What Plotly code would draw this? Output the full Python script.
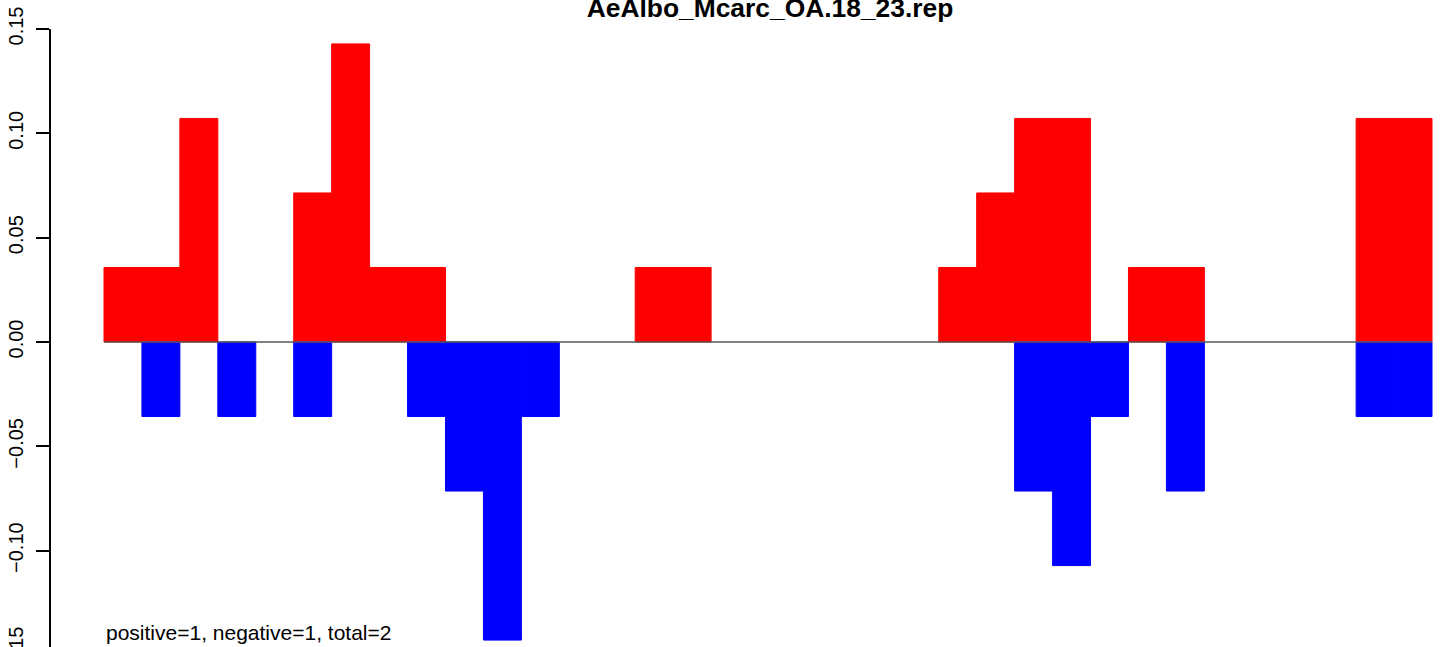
import plotly.graph_objects as go

title_text = "AeAlbo_Mcarc_OA.18_23.rep"
note_text = "positive=1, negative=1, total=2"

# counts per position, scaled by 1/28
pos_counts = [1, 1, 3, 0, 0, 2, 4, 1, 1, 0, 0, 0, 0, 0, 1, 1, 0, 0, 0, 0, 0, 0,
              1, 2, 3, 3, 0, 1, 1, 0, 0, 0, 0, 3, 3]
neg_counts = [0, 1, 0, 1, 0, 1, 0, 0, 1, 2, 4, 1, 0, 0, 0, 0, 0, 0, 0, 0, 0, 0,
              0, 0, 2, 3, 1, 0, 2, 0, 0, 0, 0, 1, 1]
denom = 28.0

pos_vals = [c / denom if c else None for c in pos_counts]
neg_vals = [-c / denom if c else None for c in neg_counts]
n = len(pos_counts)
xs = [i + 0.5 for i in range(n)]

y_ticks = [-0.15, -0.10, -0.05, 0.00, 0.05, 0.10, 0.15]
y_tick_text = ["\u22120.15", "\u22120.10", "\u22120.05", "0.00", "0.05", "0.10", "0.15"]

FONT = "Liberation Sans, Arial, Helvetica, sans-serif"

# figure is a bit taller than the window; the bottom is cropped like the original
W, H = 1441, 664

fig = go.Figure()
fig.add_trace(go.Scatter(x=[0, n], y=[0, 0], mode="lines",
                         line=dict(color="#595959", width=1.3),
                         hoverinfo="skip", showlegend=False))
fig.add_trace(go.Bar(x=xs, y=pos_vals, width=1.0,
                     marker=dict(color="#FF0000", line=dict(width=1.0, color="#FF0000")),
                     showlegend=False))
fig.add_trace(go.Bar(x=xs, y=neg_vals, width=1.0,
                     marker=dict(color="#0000FF", line=dict(width=1.0, color="#0000FF")),
                     showlegend=False))

fig.add_annotation(x=0, y=-0.139, xref="x", yref="y", text=note_text, showarrow=False,
                   xanchor="left", yanchor="middle",
                   font=dict(family=FONT, size=21, color="black"))

fig.update_layout(
    width=W, height=H,
    margin=dict(l=51, r=0, t=29, b=0, pad=0),
    paper_bgcolor="white", plot_bgcolor="white",
    barmode="overlay",
    title=dict(text="<b>" + title_text + "</b>", x=(770 - 51) / 1390, xref="paper",
               xanchor="center", y=1 - 7.8 / H, yref="container", yanchor="middle",
               font=dict(family=FONT, size=26.4, color="black")),
    xaxis=dict(visible=False, range=[-1.3968, 35.237], fixedrange=True),
    yaxis=dict(range=[-0.15431, 0.15], tickvals=y_ticks, ticktext=y_tick_text,
               showline=True, linecolor="black", linewidth=1.7,
               ticks="outside", ticklen=13, tickwidth=1.7, tickcolor="black",
               tickangle=-90, ticklabelstandoff=5, ticklabeloverflow="allow",
               showgrid=False, zeroline=False, automargin=False,
               tickfont=dict(family=FONT, size=20, color="black")),
    font=dict(family=FONT),
)

fig.write_html("out.html", config={"displayModeBar": False},
               post_script="document.body.style.margin='0';document.body.style.overflow='hidden';")
